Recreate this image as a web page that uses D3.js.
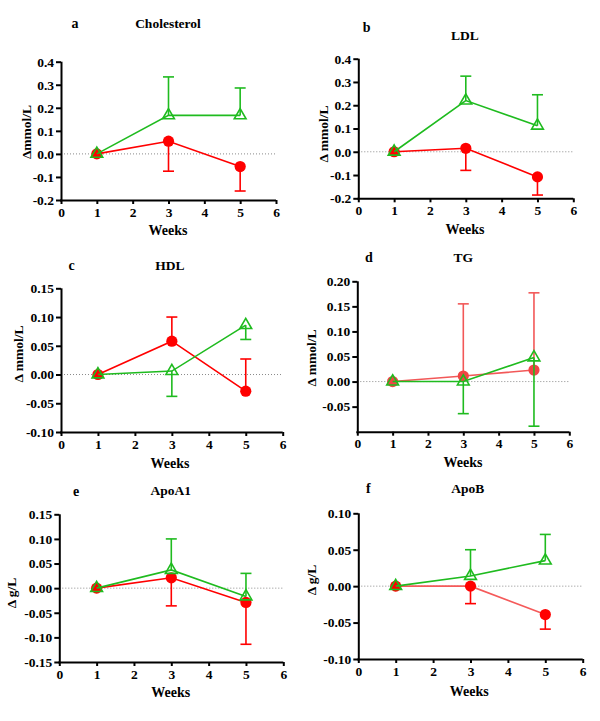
<!DOCTYPE html>
<html><head><meta charset="utf-8">
<script src="https://cdn.jsdelivr.net/npm/d3@7"></script>
<style>body{margin:0;background:#fff}svg{display:block}text{font-family:"Liberation Serif","Times New Roman",Times,"DejaVu Serif",serif;font-weight:bold;fill:#000}</style>
</head><body>
<script>
// ---------- data ----------
const weeks = [1, 3, 5];
const xTicks = [0, 1, 2, 3, 4, 5, 6];
const panelLetters = ["a", "b", "c", "d", "e", "f"];
const panelTitles = ["Cholesterol", "LDL", "HDL", "TG", "ApoA1", "ApoB"];
const yLabels = ["\u0394mmol/L", "\u0394 mmol/L", "\u0394 mmol/L", "\u0394 mmol/L", "\u0394 g/L", "\u0394 g/L"];
const yDomains = [[-0.2, 0.4], [-0.2, 0.4], [-0.1, 0.15], [-0.1, 0.2], [-0.15, 0.15], [-0.1, 0.1]];
const yTickLists = [
  [-0.2, -0.1, 0, 0.1, 0.2, 0.3, 0.4],
  [-0.2, -0.1, 0, 0.1, 0.2, 0.3, 0.4],
  [-0.1, -0.05, 0, 0.05, 0.1, 0.15],
  [-0.05, 0, 0.05, 0.1, 0.15, 0.2],
  [-0.15, -0.1, -0.05, 0, 0.05, 0.1, 0.15],
  [-0.1, -0.05, 0, 0.05, 0.1]
];
const yDecimals = [1, 1, 2, 2, 2, 2];
// means (green = open triangles, red = filled circles)
const greenMeans = [
  [0, 0.167, 0.167],
  [0, 0.22, 0.112],
  [0, 0.006, 0.086],
  [0, 0, 0.048],
  [0, 0.037, -0.017],
  [0, 0.014, 0.035]
];
const redMeans = [
  [0, 0.055, -0.055],
  [0, 0.015, -0.108],
  [0, 0.058, -0.029],
  [0, 0.011, 0.023],
  [0, 0.021, -0.029],
  [0, 0, -0.039]
];
// one-sided error bars (signed: + drawn upward, - drawn downward)
const greenErr = [
  [0, 0.167, 0.119],
  [0, 0.105, 0.133],
  [0, -0.044, -0.025],
  [0, -0.064, -0.137],
  [0, 0.063, 0.047],
  [0, 0.036, 0.036]
];
const redErr = [
  [0, -0.13, -0.106],
  [0, -0.095, -0.078],
  [0, 0.042, 0.056],
  [0, 0.144, 0.154],
  [0, -0.057, -0.085],
  [0, -0.024, -0.02]
];

// ---------- layout ----------
const frames = [
  {x0: 61, x1: 276, yT: 61.7, yB: 200, lx: 75, tx: 168, ty: 23, ylx: 26, yly: 132, wx: 168, wy: 230},
  {x0: 358.3, x1: 573.3, yT: 58.7, yB: 198.3, lx: 366.7, lty: 26.7, tx: 465, ty: 35, ylx: 323, yly: 134, wx: 465, wy: 228.7},
  {x0: 61, x1: 282.7, yT: 288.3, yB: 432, lx: 71.7, tx: 170, ty: 265, ylx: 18, yly: 354, wx: 170, wy: 463},
  {x0: 357.3, x1: 569.3, yT: 281.3, yB: 431.7, lx: 369, tx: 463.3, ty: 257.3, ylx: 311.7, yly: 358, wx: 463, wy: 461.7},
  {x0: 59.3, x1: 283.3, yT: 514.3, yB: 662, lx: 76, tx: 170.7, ty: 490.7, ylx: 11.7, yly: 593, wx: 170.7, wy: 691.7},
  {x0: 358.3, x1: 582.7, yT: 513.3, yB: 659, lx: 368.3, tx: 467.7, ty: 488.3, ylx: 311.7, yly: 580, wx: 469.3, wy: 690.7}
];
const GREEN = "#1fbb1f";
const RED = "#ff0000";
const RED_LIGHT = "#f25858";
const redColors = [
  {line: RED, mark: RED, err: RED},
  {line: RED, mark: RED, err: RED},
  {line: RED, mark: RED, err: RED},
  {line: RED_LIGHT, mark: "#f04545", err: RED_LIGHT},
  {line: RED, mark: RED, err: RED},
  {line: "#f55a5a", mark: RED, err: RED}
];
const FONT = "'Liberation Serif','Times New Roman',Times,'DejaVu Serif',serif";

const svg = d3.select("body").append("svg").attr("width", 600).attr("height", 721);

frames.forEach((f, i) => {
  const x = d3.scaleLinear().domain([0, 6]).range([f.x0, f.x1]);
  const y = d3.scaleLinear().domain(yDomains[i]).range([f.yB, f.yT]);
  const g = svg.append("g");

  // zero reference line
  g.append("line").attr("x1", f.x0).attr("x2", f.x1).attr("y1", y(0)).attr("y2", y(0))
    .attr("stroke", "#8a8a8a").attr("stroke-width", 1).attr("stroke-dasharray", "1,2");

  // axes
  const xa = g.append("g").attr("transform", `translate(0,${f.yB})`)
    .call(d3.axisBottom(x).tickValues(xTicks).tickFormat(d3.format("d")).tickSize(4).tickPadding(3).tickSizeOuter(0));
  const ya = g.append("g").attr("transform", `translate(${f.x0},0)`)
    .call(d3.axisLeft(y).tickValues(yTickLists[i]).tickFormat(d => d.toFixed(yDecimals[i])).tickSize(5).tickPadding(2).tickSizeOuter(0));
  [xa, ya].forEach(a => {
    a.attr("font-family", FONT);
    a.select(".domain").attr("stroke", "#000").attr("stroke-width", 2);
    a.selectAll(".tick line").attr("stroke", "#000").attr("stroke-width", 2);
    a.selectAll(".tick text").style("font-size", "13.5px").style("font-family", FONT).style("font-weight", "bold").attr("fill", "#000");
  });
  ya.select(".domain").attr("d", `M0.5,${f.yB}V${f.yT}`);
  xa.select(".domain").attr("d", `M${f.x0 - 1},0.5H${f.x1}`);

  // texts
  g.append("text").attr("x", f.lx).attr("y", f.lty || f.ty).attr("dy", "0.35em").attr("text-anchor", "middle")
    .style("font-size", "14px").text(panelLetters[i]);
  g.append("text").attr("x", f.tx).attr("y", f.ty).attr("dy", "0.35em").attr("text-anchor", "middle")
    .style("font-size", "13.5px").text(panelTitles[i]);
  g.append("text").attr("transform", `translate(${f.ylx},${f.yly}) rotate(-90)`).attr("dy", "0.35em")
    .attr("text-anchor", "middle").style("font-size", "13.5px").text(yLabels[i]);
  g.append("text").attr("x", f.wx).attr("y", f.wy).attr("dy", "0.35em").attr("text-anchor", "middle")
    .style("font-size", "14px").text("Weeks");

  const line = d3.line().x(d => x(d[0])).y(d => y(d[1]));
  const cap = 5.5;

  // series drawing helper
  function drawSeries(means, errs, col, errCol, markFn) {
    const pts = weeks.map((w, k) => [w, means[k], errs[k]]);
    const eg = g.append("g").attr("stroke", errCol).attr("stroke-width", 1.6);
    pts.filter(p => p[2] !== 0).forEach(p => {
      const y0 = y(p[1]), y1 = y(p[1] + p[2]);
      eg.append("line").attr("x1", x(p[0])).attr("x2", x(p[0])).attr("y1", y0).attr("y2", y1);
      eg.append("line").attr("x1", x(p[0]) - cap).attr("x2", x(p[0]) + cap).attr("y1", y1).attr("y2", y1);
    });
    g.append("path").datum(pts).attr("d", line).attr("fill", "none").attr("stroke", col).attr("stroke-width", 1.6);
    markFn(pts);
  }

  drawSeries(redMeans[i], redErr[i], redColors[i].line, redColors[i].err, pts => {
    g.selectAll(null).data(pts).join("circle").attr("cx", d => x(d[0])).attr("cy", d => y(d[1]))
      .attr("r", 5.6).attr("fill", redColors[i].mark);
  });
  drawSeries(greenMeans[i], greenErr[i], GREEN, GREEN, pts => {
    g.selectAll(null).data(pts).join("path")
      .attr("transform", d => `translate(${x(d[0])},${y(d[1])})`)
      .attr("d", d3.symbol(d3.symbolTriangle, 60)).attr("fill", "none").attr("stroke", GREEN).attr("stroke-width", 1.6);
  });
});
</script>
</body></html>
